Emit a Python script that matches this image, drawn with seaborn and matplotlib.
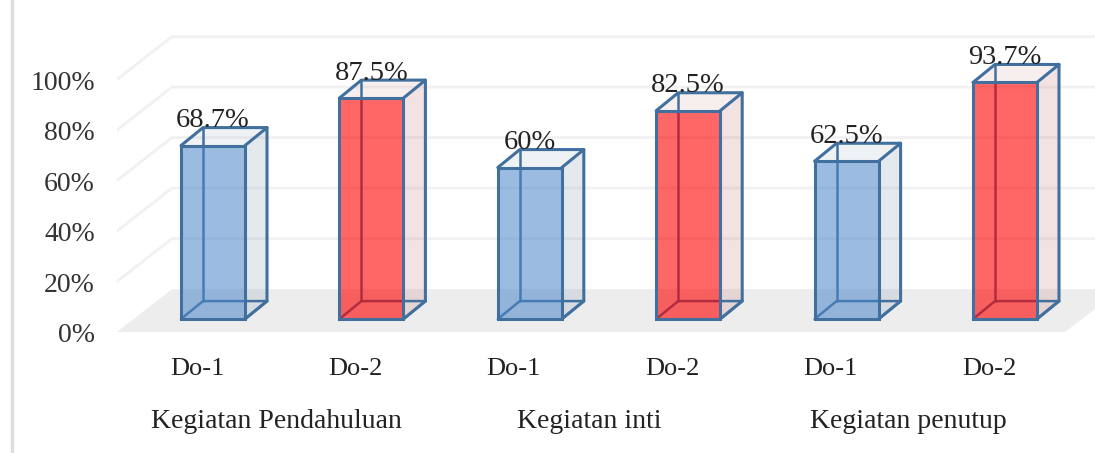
import matplotlib
matplotlib.use("Agg")
import matplotlib.pyplot as plt
from matplotlib.lines import Line2D
from matplotlib.patches import Polygon
from matplotlib.colors import to_rgba
import seaborn as sns
import pandas as pd

# data
groups = ["Kegiatan Pendahuluan", "Kegiatan inti", "Kegiatan penutup"]
sessions = ["Do-1", "Do-2", "Do-1", "Do-2", "Do-1", "Do-2"]
values = [68.7, 87.5, 60.0, 82.5, 62.5, 93.7]
value_labels = ["68.7%", "87.5%", "60%", "82.5%", "62.5%", "93.7%"]
y_ticks = [0, 20, 40, 60, 80, 100]
y_tick_labels = ["0%", "20%", "40%", "60%", "80%", "100%"]

# pixel layout of the fake 3D box
W, H = 1095, 453
PX_X = 158.4     # px between bars
PX_Y = 2.533     # px per percent
X0, Y0 = 213, 320
DX = 22 / PX_X   # bar depth
DY = 18 / PX_Y
FLOOR_LEFT, FLOOR_FRONT = 117, 333
FX = 55 / PX_X   # floor depth
FY = 43 / PX_Y
FRONT_OFF = (FLOOR_FRONT - Y0) / PX_Y

COLORS = {"Do-1": "#4A86C8", "Do-2": "#FF0000"}
SIDE = {"Do-1": "#8FA3BC", "Do-2": "#C98888"}
EDGE = "#41709F"
GRID = "#F1F1F1"
FONT = "Liberation Serif"

df = pd.DataFrame({
    "key": [f"{i}-{s}" for i, s in enumerate(sessions)],
    "session": sessions,
    "value": values,
})

sns.set_theme(style="white")
plt.rcParams["font.family"] = [FONT, "DejaVu Sans"]

fig = plt.figure(figsize=(W / 100, H / 100), dpi=100)
ax = fig.add_axes([FLOOR_LEFT / W, (H - FLOOR_FRONT) / H, 1 - FLOOR_LEFT / W, FLOOR_FRONT / H])

sns.barplot(data=df, x="key", y="value", hue="session", palette=COLORS, dodge=False,
            width=64 / PX_X, order=list(df["key"]), legend=False, ax=ax, zorder=5)

# keep the bars seaborn drew, left to right
bars = sorted([p for p in ax.patches if p.get_height() > 1], key=lambda p: p.get_x())

xmin = (FLOOR_LEFT - X0) / PX_X
xmax = (W - X0) / PX_X
ax.set_xlim(xmin, xmax)
ax.set_ylim(-FRONT_OFF, Y0 / PX_Y)
sns.despine(ax=ax, left=True, bottom=True)

# floor
front_y = -FRONT_OFF
back_y = front_y + FY
ax.add_patch(Polygon([(xmin, front_y), (xmin + FX, back_y), (xmax + 1, back_y), (xmax + 1 - FX, front_y)],
                     closed=True, fc="#EDEDED", ec="none", zorder=1))
# right end of the floor
ax.add_patch(Polygon([((1065 - X0) / PX_X, front_y), (xmax, (Y0 - 310) / PX_Y), (xmax, front_y)],
                     closed=True, fc="white", ec="none", zorder=1.1))

# back wall grid + slanted left wall lines
for v in y_ticks[1:]:
    yf = v - FRONT_OFF
    ax.plot([xmin, xmin + FX, xmax], [yf, yf + FY, yf + FY], color=GRID, lw=2, zorder=2)

# boxes behind and over the bars
for p, s, lab in zip(bars, sessions, value_labels):
    x, w, v = p.get_x(), p.get_width(), p.get_height()
    r = x + w
    p.set_facecolor(to_rgba(COLORS[s], 0.6 if s == "Do-2" else 0.55))
    p.set_edgecolor(EDGE)
    p.set_linewidth(2.2)
    # side, top, bottom faces
    ax.add_patch(Polygon([(r, 0), (r + DX, DY), (r + DX, v + DY), (r, v)], closed=True,
                         fc=to_rgba(SIDE[s], 0.24), ec="none", zorder=3))
    ax.add_patch(Polygon([(x, v), (x + DX, v + DY), (r + DX, v + DY), (r, v)], closed=True,
                         fc=to_rgba(SIDE[s], 0.14), ec="none", zorder=3))
    # back edges (seen through the front face)
    for xs, ys in [([x, x + DX, r + DX, r], [0, DY, DY, 0]),
                   ([x + DX, x + DX], [DY, v + DY])]:
        ax.plot(xs, ys, color=EDGE, lw=1.8, zorder=4)
    # edges in front of the fill
    ax.plot([r, r + DX, r + DX], [v, v + DY, DY], color=EDGE, lw=2.2, zorder=6)
    ax.plot([x, x + DX, r + DX], [v, v + DY, v + DY], color=EDGE, lw=2.2, zorder=6)
    ax.plot([r + DX, r], [DY, 0], color=EDGE, lw=2.2, zorder=6)
    ax.text(x + w / 2, v + DY + 0.2, lab, ha="center", va="baseline", fontsize=20.5,
            color="#222222", zorder=8)

# axis text
ax.set_yticks([t - FRONT_OFF - 0.4 for t in y_ticks])
ax.set_yticklabels(y_tick_labels, fontsize=20, color="#333333")
ax.set_xticks([i - 16 / PX_X for i in range(len(sessions))])
ax.set_xticklabels(sessions, fontsize=19, color="#222222")
ax.tick_params(axis="y", length=0, pad=16)
ax.tick_params(axis="x", length=0, pad=18)
ax.set_xlabel("")
ax.set_ylabel("")

for g, cx in zip(groups, [276, 589, 908]):
    ax.text((cx - X0) / PX_X, (Y0 - 423) / PX_Y, g, ha="center", va="center", fontsize=20,
            color="#222222", clip_on=False)

# page edge on the left
fig.add_artist(Line2D([12 / W, 12 / W], [0, 1], color="#DDDDDD", lw=2.5))

fig.savefig("out.png", dpi=100)
